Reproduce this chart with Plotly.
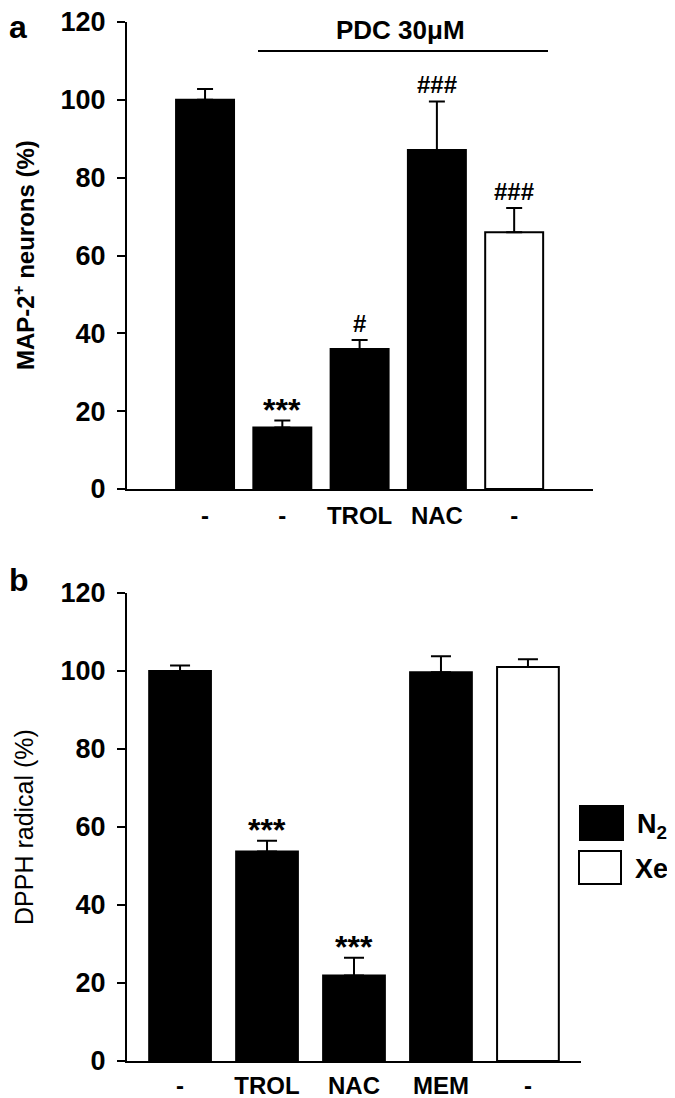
import plotly.graph_objects as go

# ---------------- data ----------------
# Panel a
cats_a = ["-", "-", "TROL", "NAC", "-"]
vals_a = [100.0, 15.8, 36.0, 87.1, 66.0]
err_a = [2.8, 1.8, 2.3, 12.5, 6.2]
gas_a = ["N2", "N2", "N2", "N2", "Xe"]
sig_a = ["", "***", "#", "###", "###"]

# Panel b
cats_b = ["-", "TROL", "NAC", "MEM", "-"]
vals_b = [100.0, 53.7, 21.9, 99.7, 101.0]
err_b = [1.4, 2.8, 4.6, 4.1, 2.0]
gas_b = ["N2", "N2", "N2", "N2", "Xe"]
sig_b = ["", "***", "***", "", ""]

y_ticks = [0, 20, 40, 60, 80, 100, 120]

FILL = {"N2": "black", "Xe": "white"}
FONT = "Liberation Sans, Arial, sans-serif"

# the page body has an 8px margin -> figure slightly smaller than the window
OX, OY = 8, 8
W, H = 667, 1090

fig = go.Figure()

def add_panel(cats, vals, errs, gas, xa, ya, cap, width):
    xs = list(range(len(cats)))
    fig.add_trace(go.Bar(
        x=xs, y=vals, xaxis=xa, yaxis=ya, width=width,
        marker=dict(color=[FILL[g] for g in gas], line=dict(color="black", width=2)),
        error_y=dict(type="data", array=errs, arrayminus=[0] * len(errs), symmetric=False,
                     color="black", thickness=2, width=cap, visible=True),
        showlegend=False, hoverinfo="skip",
    ))

add_panel(cats_a, vals_a, err_a, gas_a, "x", "y", 8, 0.75)
add_panel(cats_b, vals_b, err_b, gas_b, "x2", "y2", 10, 0.71)

def px_x(p):
    return (p - OX) / W

def px_y(p):
    return 1 - (p - OY) / H

x_common = dict(showline=True, linecolor="black", linewidth=2, showgrid=False,
                zeroline=False, automargin=False, ticks="",
                tickfont=dict(size=24, weight="bold"))
y_common = dict(showline=True, linecolor="black", linewidth=2, showgrid=False,
                zeroline=False, automargin=False, range=[0, 120], tickmode="array",
                tickvals=y_ticks, ticks="outside", ticklen=8, tickwidth=2, tickcolor="black",
                tickfont=dict(size=27, weight="bold"), ticklabelstandoff=6,
                ticklabeloverflow="allow")

fig.update_layout(
    width=W, height=H,
    margin=dict(l=0, r=0, t=0, b=0, autoexpand=False),
    paper_bgcolor="white", plot_bgcolor="white",
    font=dict(family=FONT, color="black"),
    xaxis=dict(domain=[px_x(127), px_x(593)], anchor="y", range=[-1.01, 5.02],
               tickmode="array", tickvals=list(range(len(cats_a))), ticktext=cats_a,
               ticklabelstandoff=4, **x_common),
    yaxis=dict(domain=[px_y(489), px_y(22)], anchor="x", **y_common),
    xaxis2=dict(domain=[px_x(127), px_x(581)], anchor="y2", range=[-0.61, 4.61],
                tickmode="array", tickvals=list(range(len(cats_b))), ticktext=cats_b,
                ticklabelstandoff=2, **x_common),
    yaxis2=dict(domain=[px_y(1061), px_y(593)], anchor="x2", **y_common),
)

annotations = []

# significance marks above the error bars
def add_sig(sigs, vals, errs, xr, yr):
    for i, s in enumerate(sigs):
        if not s:
            continue
        star = "*" in s
        annotations.append(dict(
            x=i, y=vals[i] + errs[i], xref=xr, yref=yr, text="<b>" + s + "</b>",
            showarrow=False, yanchor="bottom", xanchor="center",
            yshift=-9 if star else 1,
            font=dict(size=32 if star else 24, family=FONT, color="black"),
        ))

add_sig(sig_a, vals_a, err_a, "x", "y")
add_sig(sig_b, vals_b, err_b, "x2", "y2")

# panel letters
annotations.append(dict(x=px_x(8), y=px_y(8), xref="paper", yref="paper", text="<b>a</b>",
                        showarrow=False, xanchor="left", yanchor="top", font=dict(size=32),
                        borderpad=0))
annotations.append(dict(x=px_x(8), y=px_y(561), xref="paper", yref="paper", text="<b>b</b>",
                        showarrow=False, xanchor="left", yanchor="top", font=dict(size=32),
                        borderpad=0))

# y titles
annotations.append(dict(x=px_x(24), y=px_y(255), xref="paper", yref="paper",
                        text="<b>MAP-2<sup>+</sup> neurons (%)</b>", textangle=-90,
                        showarrow=False, xanchor="center", yanchor="middle", font=dict(size=24)))
annotations.append(dict(x=px_x(24), y=px_y(827), xref="paper", yref="paper",
                        text="DPPH radical (%)", textangle=-90,
                        showarrow=False, xanchor="center", yanchor="middle", font=dict(size=25)))

# PDC header
annotations.append(dict(x=px_x(400), y=px_y(30), xref="paper", yref="paper",
                        text="<b>PDC 30μM</b>", showarrow=False, xanchor="center",
                        yanchor="middle", font=dict(size=26)))

# legend texts
annotations.append(dict(x=px_x(636), y=px_y(826), xref="paper", yref="paper",
                        text="<b>N<sub>2</sub></b>", showarrow=False, xanchor="left",
                        yanchor="middle", font=dict(size=27), borderpad=0))
annotations.append(dict(x=px_x(634), y=px_y(869), xref="paper", yref="paper",
                        text="<b>Xe</b>", showarrow=False, xanchor="left",
                        yanchor="middle", font=dict(size=27), borderpad=0))

fig.update_layout(annotations=annotations)

shapes = [
    # PDC bracket line
    dict(type="line", xref="paper", yref="paper", x0=px_x(258), x1=px_x(548),
         y0=px_y(51), y1=px_y(51), line=dict(color="black", width=2)),
    # legend boxes
    dict(type="rect", xref="paper", yref="paper", x0=px_x(580), x1=px_x(623),
         y0=px_y(840), y1=px_y(806), fillcolor=FILL["N2"], line=dict(color="black", width=2)),
    dict(type="rect", xref="paper", yref="paper", x0=px_x(579), x1=px_x(621),
         y0=px_y(884), y1=px_y(851), fillcolor=FILL["Xe"], line=dict(color="black", width=2)),
]
fig.update_layout(shapes=shapes)

fig.write_html("out.html")
